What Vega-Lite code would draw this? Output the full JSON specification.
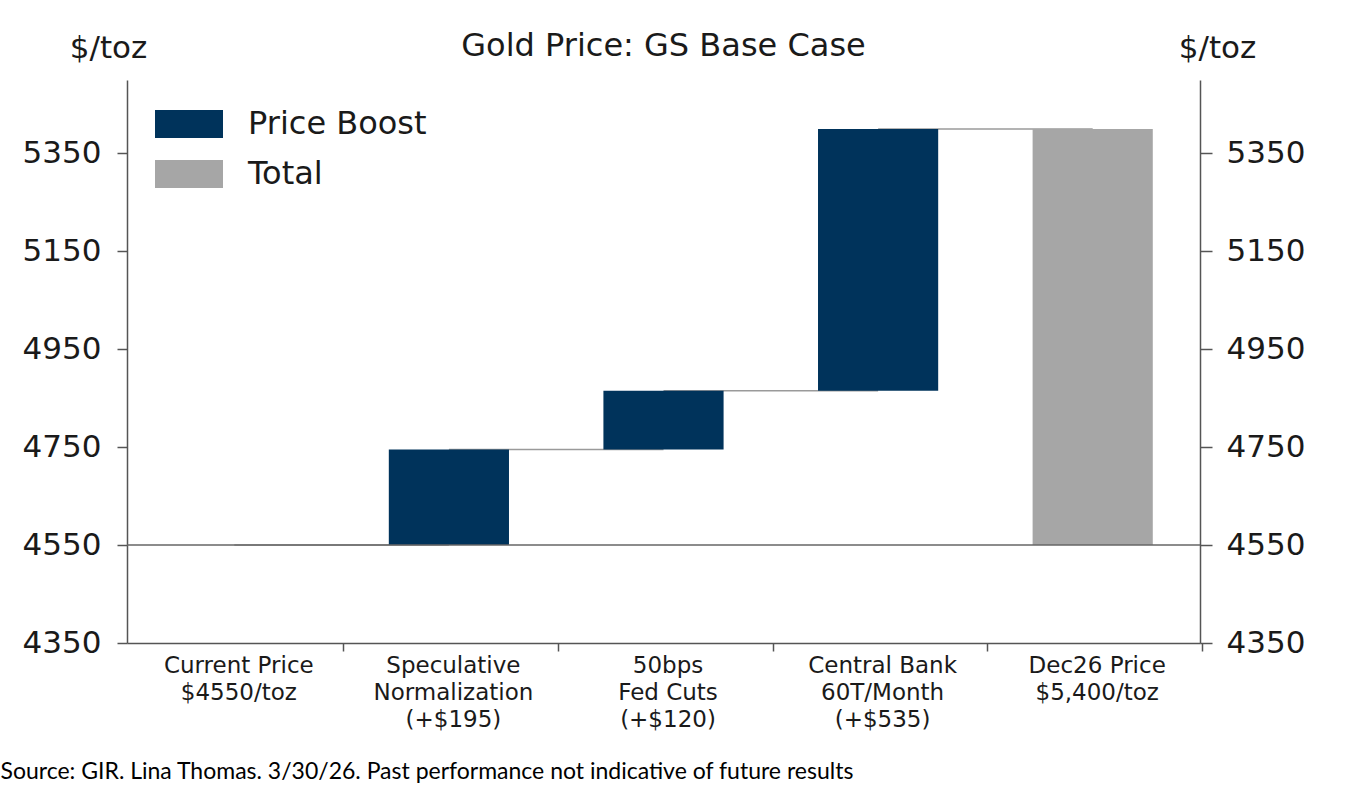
{
  "$schema": "https://vega.github.io/schema/vega-lite/v6.json",
  "autosize": "none",
  "width": 1073,
  "height": 563,
  "padding": {"left": 127, "top": 80, "right": 146, "bottom": 151},
  "background": "white",
  "title": {
    "text": "Gold Price: GS Base Case",
    "font": "DejaVu Sans",
    "fontSize": 32,
    "fontWeight": "normal",
    "color": "#1a1a1a",
    "anchor": "middle",
    "frame": "group",
    "offset": -31
  },
  "config": {
    "view": {"stroke": null},
    "axis": {
      "labelFont": "DejaVu Sans",
      "titleFont": "DejaVu Sans",
      "labelColor": "#1a1a1a",
      "titleColor": "#1a1a1a",
      "domainColor": "#555555",
      "tickColor": "#555555",
      "domainWidth": 1.5,
      "tickWidth": 1.5,
      "grid": false
    }
  },
  "datasets": {
    "bars": [
      {"cat": "Current Price\n$4550/toz", "start": 4550, "end": 4550, "type": "Price Boost"},
      {"cat": "Speculative\nNormalization\n(+$195)", "start": 4550, "end": 4745, "type": "Price Boost"},
      {"cat": "50bps\nFed Cuts\n(+$120)", "start": 4745, "end": 4865, "type": "Price Boost"},
      {"cat": "Central Bank\n60T/Month\n(+$535)", "start": 4865, "end": 5400, "type": "Price Boost"},
      {"cat": "Dec26 Price\n$5,400/toz", "start": 4550, "end": 5400, "type": "Total"}
    ],
    "links": [
      {"from": "Current Price\n$4550/toz", "to": "Speculative\nNormalization\n(+$195)", "level": 4550},
      {"from": "Speculative\nNormalization\n(+$195)", "to": "50bps\nFed Cuts\n(+$120)", "level": 4745},
      {"from": "50bps\nFed Cuts\n(+$120)", "to": "Central Bank\n60T/Month\n(+$535)", "level": 4865},
      {"from": "Central Bank\n60T/Month\n(+$535)", "to": "Dec26 Price\n$5,400/toz", "level": 5400}
    ],
    "base": [{"price": 4550}]
  },
  "layer": [
    {
      "data": {"name": "links"},
      "mark": {"type": "rule", "color": "#9a9a9a", "strokeWidth": 1.5},
      "encoding": {
        "x": {
          "field": "from",
          "type": "nominal",
          "scale": {
            "domain": [
              "Current Price\n$4550/toz",
              "Speculative\nNormalization\n(+$195)",
              "50bps\nFed Cuts\n(+$120)",
              "Central Bank\n60T/Month\n(+$535)",
              "Dec26 Price\n$5,400/toz"
            ],
            "paddingInner": 0.44,
            "paddingOuter": 0.22
          },
          "axis": {
            "labelExpr": "split(datum.label, '\\n')",
            "labelAngle": 0,
            "labelAlign": "center",
            "labelFontSize": 23,
            "labelLineHeight": 27,
            "labelBaseline": "top",
            "labelPadding": 3,
            "tickSize": 8,
            "bandPosition": 1,
            "tickOffset": 49,
            "labelOffset": -45,
            "title": "Source: GIR. Lina Thomas. 3/30/26. Past performance not indicative of future results",
            "titleFont": "Lato",
            "titleFontSize": 23,
            "titleFontWeight": "normal",
            "titleColor": "#000000",
            "titleAlign": "left",
            "titleAnchor": "start",
            "titleBaseline": "alphabetic",
            "titleX": -127,
            "titleY": 135
          }
        },
        "x2": {"field": "to"},
        "y": {"field": "level", "type": "quantitative", "axis": null}
      }
    },
    {
      "data": {"name": "bars"},
      "mark": {"type": "bar"},
      "encoding": {
        "x": {"field": "cat", "type": "nominal"},
        "y": {
          "field": "start",
          "type": "quantitative",
          "scale": {"domain": [4350, 5500], "nice": false, "zero": false},
          "axis": {
            "orient": "left",
            "values": [4350, 4550, 4750, 4950, 5150, 5350],
            "format": "d",
            "labelFontSize": 31,
            "tickSize": 10,
            "labelPadding": 16,
            "title": "$/toz",
            "titleFontSize": 31,
            "titleFontWeight": "normal",
            "titleAngle": 0,
            "titleAlign": "center",
            "titleBaseline": "alphabetic",
            "titleX": -19,
            "titleY": -23
          }
        },
        "y2": {"field": "end"},
        "color": {
          "field": "type",
          "type": "nominal",
          "scale": {"domain": ["Price Boost", "Total"], "range": ["#00335B", "#A6A6A6"]},
          "legend": {
            "title": null,
            "orient": "none",
            "legendX": 28,
            "legendY": 10,
            "symbolType": "M-1,-0.41H1V0.41H-1Z",
            "symbolSize": 4624,
            "symbolStrokeWidth": 0,
            "labelFont": "DejaVu Sans",
            "labelFontSize": 32,
            "labelColor": "#1a1a1a",
            "labelOffset": 25,
            "labelLimit": 400,
            "rowPadding": -20,
            "padding": 0
          }
        }
      }
    },
    {
      "data": {"name": "base"},
      "mark": {"type": "rule", "color": "#666666", "strokeWidth": 1.5},
      "encoding": {
        "y": {
          "field": "price",
          "type": "quantitative",
          "axis": {
            "orient": "right",
            "values": [4350, 4550, 4750, 4950, 5150, 5350],
            "format": "d",
            "labelFontSize": 31,
            "tickSize": 12,
            "labelPadding": 14,
            "title": "$/toz",
            "titleFontSize": 31,
            "titleFontWeight": "normal",
            "titleAngle": 0,
            "titleAlign": "center",
            "titleBaseline": "alphabetic",
            "titleX": 17,
            "titleY": -23
          }
        }
      }
    }
  ],
  "resolve": {"axis": {"y": "independent"}}
}
